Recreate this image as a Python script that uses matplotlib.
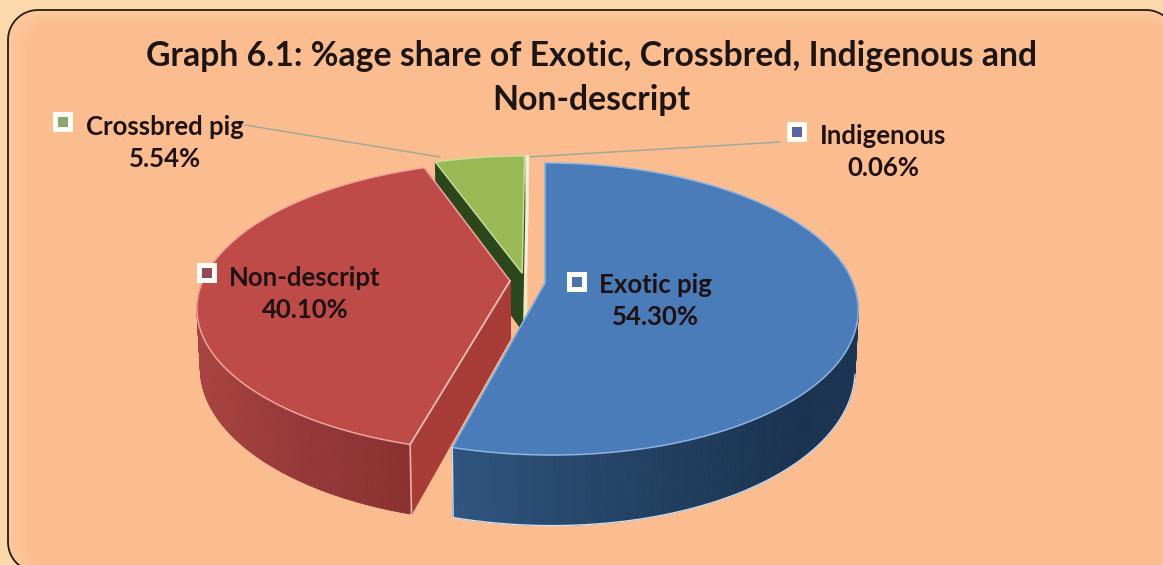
import numpy as np
import matplotlib
matplotlib.use('Agg')
import matplotlib.pyplot as plt
from matplotlib.collections import PolyCollection
from matplotlib.patches import Polygon, Rectangle

# chart data
categories = ['Exotic pig', 'Non-descript', 'Crossbred pig', 'Indigenous']
shares = [54.30, 40.10, 5.54, 0.06]
title = 'Graph 6.1: %age share of Exotic, Crossbred, Indigenous and\nNon-descript'

# fake 3d pie set-up, all in pixels of the picture
apex_x, apex_y = 545, 283
rad_x, rad_y = 308, 141.4
persp = 0.178
depth = 58
explode = [(0, 0), (-0.114, 0.015), (-0.075, 0.07), (-0.066, 0.07)]
top_colors = ['#4a7cba', '#be4b48', '#98b954', '#f6efd6']
edge_colors = ['#8fb4e0', '#eda5a0', '#c8dc9c', '#f6efd6']
cut_colors = ['#2f5580', '#a83c38', '#2c471c', '#efe6c4']
wall_stops = [
    ([455, 600, 800, 858], ['#2f5580', '#264568', '#1a3350', '#1c3552']),
    ([197, 300, 410, 420], ['#a84440', '#96383a', '#8a3230', '#8a3230']),
    ([430, 530, 530, 540], ['#5d7a34', '#5d7a34', '#5d7a34', '#5d7a34']),
    ([520, 530, 530, 540], ['#efe6c4', '#efe6c4', '#efe6c4', '#efe6c4']),
]
key_colors = ['#4a74aa', '#8e4a58', '#8aa870', '#5b62a8']
key_xy = [(577, 282), (207, 273), (63, 122), (797, 132)]
label_xy = [(655, 301), (305, 294), (165, 143), (883, 152)]
leader_lines = [None, None, ((245, 125), (440, 157)), ((780, 142), (528, 157))]


def hex_rgb(c):
    return np.array(matplotlib.colors.to_rgb(c))


def rounded(x0, y0, x1, y1, r):
    a = np.radians(np.linspace(0, 90, 20))
    c, s = r * np.cos(a), r * np.sin(a)
    xs = np.r_[x0 + r - c, x1 - r + s, x1 - r + c, x0 + r - s]
    ys = np.r_[y0 + r - s, y0 + r - c, y1 - r + s, y1 - r + c]
    return np.column_stack([xs, ys])


def project(x, y):
    d = 1 + persp * y
    # front of the pie leans a little to the right in the original
    lean = 7 * np.minimum(y, 0) ** 2
    return apex_x + rad_x * x / d + lean, apex_y - rad_y * y / d, d


def lower(px, py, d):
    return apex_x + (px - apex_x) * 0.99, py + depth / d


def draw_slice(ax, start, stop, ex, idx, zorder):
    theta = np.radians(np.linspace(start, stop, 240))
    px, py, d = project(np.sin(theta) + ex[0], np.cos(theta) + ex[1])
    cx, cy, cd = project(ex[0], ex[1])
    bx, by = lower(px, py, d)
    bcx, bcy = lower(cx, cy, cd)
    front = np.cos(theta) < 0.2

    # cut faces
    for k in (0, -1):
        quad = [(cx, cy), (px[k], py[k]), (bx[k], by[k]), (bcx, bcy)]
        ax.add_patch(Polygon(quad, closed=True, facecolor=cut_colors[idx],
                             edgecolor=cut_colors[idx], lw=0.8, zorder=zorder))

    # curved wall, shaded by x position, only the side facing us
    stops_x, stops_c = wall_stops[idx]
    rgb = np.array([hex_rgb(c) for c in stops_c])
    quads = []
    cols = []
    for i in range(len(px) - 1):
        if not front[i]:
            continue
        quads.append([(px[i], py[i]), (px[i + 1], py[i + 1]), (bx[i + 1], by[i + 1]), (bx[i], by[i])])
        xm = (px[i] + px[i + 1]) / 2
        cols.append([np.interp(xm, stops_x, rgb[:, n]) for n in range(3)])
    if quads:
        ax.add_collection(PolyCollection(quads, facecolors=cols, edgecolors=cols,
                                         linewidths=0.6, zorder=zorder + 0.1))

    # top face
    outline = np.column_stack([np.r_[cx, px], np.r_[cy, py]])
    ax.add_patch(Polygon(outline, closed=True, facecolor=top_colors[idx],
                         edgecolor=edge_colors[idx], lw=1.1, zorder=zorder + 0.2))
    return px, py, bx, by, bcx, bcy, cx, cy, np.cos(theta) < -0.2


fig = plt.figure(figsize=(11.63, 5.65), dpi=100, facecolor='#fcd9ab')
ax = fig.add_axes([0, 0, 1, 1])
ax.set_xlim(0, 1163)
ax.set_ylim(565, 0)
ax.axis('off')

# panel runs off the right and bottom of the picture, edges fade slightly lighter
for n in range(0, 7):
    t = n / 6
    col = (1 - t) * hex_rgb('#fcc99c') + t * hex_rgb('#fbbd8f')
    ax.add_patch(Polygon(rounded(8 + 3 * n, 10 + 2 * n, 1176, 572, 30), closed=True,
                         facecolor=col, edgecolor='none', zorder=0.5 + n * 0.01))
ax.add_patch(Polygon(rounded(8, 10, 1176, 572, 30), closed=True,
                     facecolor='none', edgecolor='#2b1a12', lw=1.3, zorder=1))

# leaders sit behind the pie
for seg in leader_lines:
    if seg is not None:
        ax.plot([seg[0][0], seg[1][0]], [seg[0][1], seg[1][1]], color='#a3a89e', lw=1.1, zorder=2)

# angles come straight from the shares, clockwise from 12 o'clock
edges = np.r_[0, np.cumsum(shares)] / np.sum(shares) * 360
for idx, z in ((3, 3), (2, 4), (1, 5), (0, 6)):
    res = draw_slice(ax, edges[idx], edges[idx + 1], explode[idx], idx, z)
    px, py, bx, by, bcx, bcy, cx, cy, rim = res
    if idx == 3:
        # sliver is thinner than a pixel, draw it as a thick line
        ax.plot([cx, px[0]], [cy, py[0]], color=top_colors[3], lw=3.4, zorder=z + 0.3, solid_capstyle='butt')
        ax.plot([cx, bcx], [cy, bcy], color=cut_colors[3], lw=3.4, zorder=z + 0.3, solid_capstyle='butt')
    if idx == 1:
        ax.plot([px[0], bx[0]], [py[0], by[0]], color='#eeb0ac', lw=1.2, zorder=z + 0.3)
        ax.plot([cx, px[0]], [cy, py[0]], color='#f3b8b2', lw=1.2, zorder=z + 0.3)
    if idx == 0:
        ax.plot(bx[rim], by[rim], color='#c9dcf2', lw=1.0, zorder=z + 0.3)
        ax.plot([px[-1], bx[-1]], [py[-1], by[-1]], color='#c9dcf2', lw=1.0, zorder=z + 0.3)

# labels
txt = '#1f1012'
font = ['Lato', 'DejaVu Sans']
ax.text(591, 78, title, ha='center', va='center', fontsize=24.3, fontweight='bold',
        family=font, color='#1d1414', linespacing=1.43, zorder=10)
for name, val, k_col, k_xy, l_xy in zip(categories, shares, key_colors, key_xy, label_xy):
    ax.add_patch(Rectangle((k_xy[0] - 10, k_xy[1] - 10), 20, 20, facecolor='#fffdf6', edgecolor='none', zorder=9))
    ax.add_patch(Rectangle((k_xy[0] - 5, k_xy[1] - 5), 10, 10, facecolor=k_col, edgecolor='none', zorder=9.1))
    ax.text(l_xy[0], l_xy[1], f'{name}\n{val:.2f}%', ha='center', va='center', fontsize=18.5,
            fontweight='bold', family=font, color=txt, linespacing=1.38, zorder=10)

fig.savefig('out.png', dpi=100, facecolor=fig.get_facecolor())
